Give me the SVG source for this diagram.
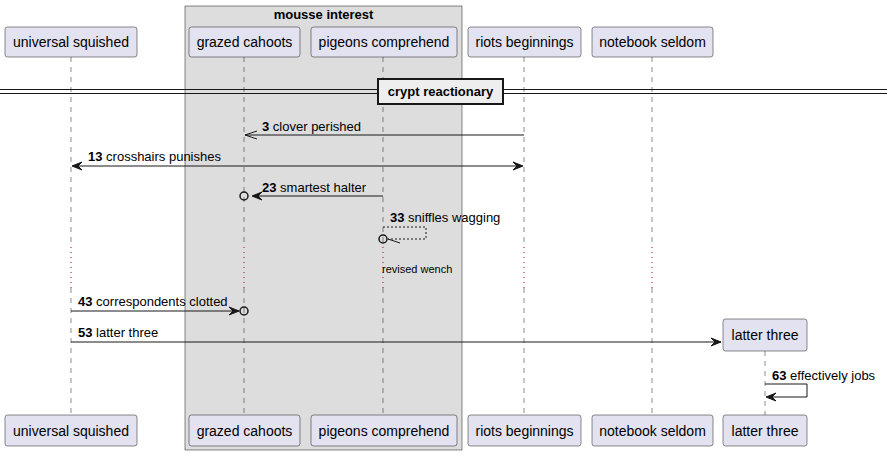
<svg xmlns="http://www.w3.org/2000/svg" width="887" height="456" viewBox="0 0 887 456">
<style>
.p{fill:#E2E2F0;stroke:#181818;stroke-width:0.5}
.pt{font-family:"Liberation Sans",Arial,sans-serif;font-size:14px;fill:#000;text-anchor:middle}
.ll{stroke:#181818;stroke-width:0.5;stroke-dasharray:5,5}
.dl{stroke:#A80036;stroke-width:1;stroke-dasharray:1,4}
.m{stroke:#181818;stroke-width:1;fill:none}
.ah{fill:#181818;stroke:#181818;stroke-width:1}
.mt{font-family:"Liberation Sans",Arial,sans-serif;font-size:13px;fill:#000}
.b{font-weight:bold}
</style>
<rect width="887" height="456" fill="#FFFFFF"/>
<g id="box-mousse-interest">
<rect x="185" y="6" width="277" height="444" fill="#DDDDDD" stroke="#181818" stroke-width="0.5"/>
<text x="323.5" y="19" class="mt b" text-anchor="middle">mousse interest</text>
</g>
<g id="lifelines">
<line class="ll" x1="71" y1="57" x2="71" y2="247"/><line class="dl" x1="71" y1="247" x2="71" y2="288"/><line class="ll" x1="71" y1="288" x2="71" y2="415"/>
<line class="ll" x1="244" y1="57" x2="244" y2="247"/><line class="dl" x1="244" y1="247" x2="244" y2="288"/><line class="ll" x1="244" y1="288" x2="244" y2="415"/>
<line class="ll" x1="383" y1="57" x2="383" y2="247"/><line class="dl" x1="383" y1="247" x2="383" y2="288"/><line class="ll" x1="383" y1="288" x2="383" y2="415"/>
<line class="ll" x1="524" y1="57" x2="524" y2="247"/><line class="dl" x1="524" y1="247" x2="524" y2="288"/><line class="ll" x1="524" y1="288" x2="524" y2="415"/>
<line class="ll" x1="652" y1="57" x2="652" y2="247"/><line class="dl" x1="652" y1="247" x2="652" y2="288"/><line class="ll" x1="652" y1="288" x2="652" y2="415"/>
<line class="ll" x1="765" y1="351" x2="765" y2="415"/>
</g>
<g id="p-universal-squished">
<rect class="p" x="5" y="27" width="132" height="30" rx="2.5"/><text class="pt" x="71" y="47">universal squished</text>
<rect class="p" x="5" y="415" width="132" height="31" rx="2.5"/><text class="pt" x="71" y="436">universal squished</text>
</g>
<g id="p-grazed-cahoots">
<rect class="p" x="189" y="27" width="111" height="30" rx="2.5"/><text class="pt" x="244.5" y="47">grazed cahoots</text>
<rect class="p" x="189" y="415" width="111" height="31" rx="2.5"/><text class="pt" x="244.5" y="436">grazed cahoots</text>
</g>
<g id="p-pigeons-comprehend">
<rect class="p" x="311" y="27" width="146" height="30" rx="2.5"/><text class="pt" x="384" y="47">pigeons comprehend</text>
<rect class="p" x="311" y="415" width="146" height="31" rx="2.5"/><text class="pt" x="384" y="436">pigeons comprehend</text>
</g>
<g id="p-riots-beginnings">
<rect class="p" x="468" y="27" width="113" height="30" rx="2.5"/><text class="pt" x="524.5" y="47">riots beginnings</text>
<rect class="p" x="468" y="415" width="113" height="31" rx="2.5"/><text class="pt" x="524.5" y="436">riots beginnings</text>
</g>
<g id="p-notebook-seldom">
<rect class="p" x="592" y="27" width="121" height="30" rx="2.5"/><text class="pt" x="652.5" y="47">notebook seldom</text>
<rect class="p" x="592" y="415" width="121" height="31" rx="2.5"/><text class="pt" x="652.5" y="436">notebook seldom</text>
</g>
<g id="p-latter-three">
<rect class="p" x="723" y="319" width="84" height="32" rx="2.5"/><text class="pt" x="765" y="340">latter three</text>
<rect class="p" x="723" y="415" width="84" height="31" rx="2.5"/><text class="pt" x="765" y="436">latter three</text>
</g>
<g id="divider-crypt-reactionary">
<line x1="0" y1="89.5" x2="887" y2="89.5" stroke="#181818" stroke-width="1"/>
<line x1="0" y1="93.5" x2="887" y2="93.5" stroke="#181818" stroke-width="1"/>
<rect x="378" y="79" width="125" height="25" fill="#EEEEEE" stroke="#181818" stroke-width="2"/>
<text x="440.5" y="96" class="mt b" text-anchor="middle">crypt reactionary</text>
</g>
<g id="connectors">
<line class="m" x1="524" y1="135" x2="245" y2="135"/>
<polyline class="m" points="257,131 245,135 257,139"/>
<text class="mt" x="262" y="131"><tspan class="b">3</tspan> clover perished</text>

<line class="m" x1="73" y1="166" x2="522" y2="166"/>
<polygon class="ah" points="82,162 72,166 82,170 78,166"/>
<polygon class="ah" points="513,162 523,166 513,170 517,166"/>
<text class="mt" x="88" y="161"><tspan class="b">13</tspan> crosshairs punishes</text>

<line class="m" x1="383" y1="196" x2="253" y2="196"/>
<polygon class="ah" points="262,192 252,196 262,200 258,196"/>
<circle cx="244" cy="196" r="4" fill="none" stroke="#181818" stroke-width="1.5"/>
<text class="mt" x="262" y="192"><tspan class="b">23</tspan> smartest halter</text>

<polyline class="m" stroke-dasharray="2,2" points="383,227 426,227 426,239 388,239"/>
<line class="m" x1="388" y1="239" x2="400" y2="243"/>
<circle cx="383" cy="239" r="4" fill="none" stroke="#181818" stroke-width="1.5"/>
<text class="mt" x="390" y="222"><tspan class="b">33</tspan> sniffles wagging</text>

<text x="382" y="273" font-family="'Liberation Sans',Arial,sans-serif" font-size="11" fill="#000">revised wench</text>

<line class="m" x1="71" y1="311" x2="239" y2="311"/>
<polygon class="ah" points="229,307 239,311 229,315 233,311"/>
<circle cx="244" cy="311" r="4" fill="none" stroke="#181818" stroke-width="1.5"/>
<text class="mt" x="78" y="306"><tspan class="b">43</tspan> correspondents clotted</text>

<line class="m" x1="71" y1="342" x2="721" y2="342"/>
<polygon class="ah" points="711,338 721,342 711,346 715,342"/>
<text class="mt" x="78" y="337"><tspan class="b">53</tspan> latter three</text>

<polyline class="m" points="765,384 807,384 807,397 768,397"/>
<polygon class="ah" points="776,393 766,397 776,401 772,397"/>
<text class="mt" x="772" y="380"><tspan class="b">63</tspan> effectively jobs</text>
</g>
</svg>
